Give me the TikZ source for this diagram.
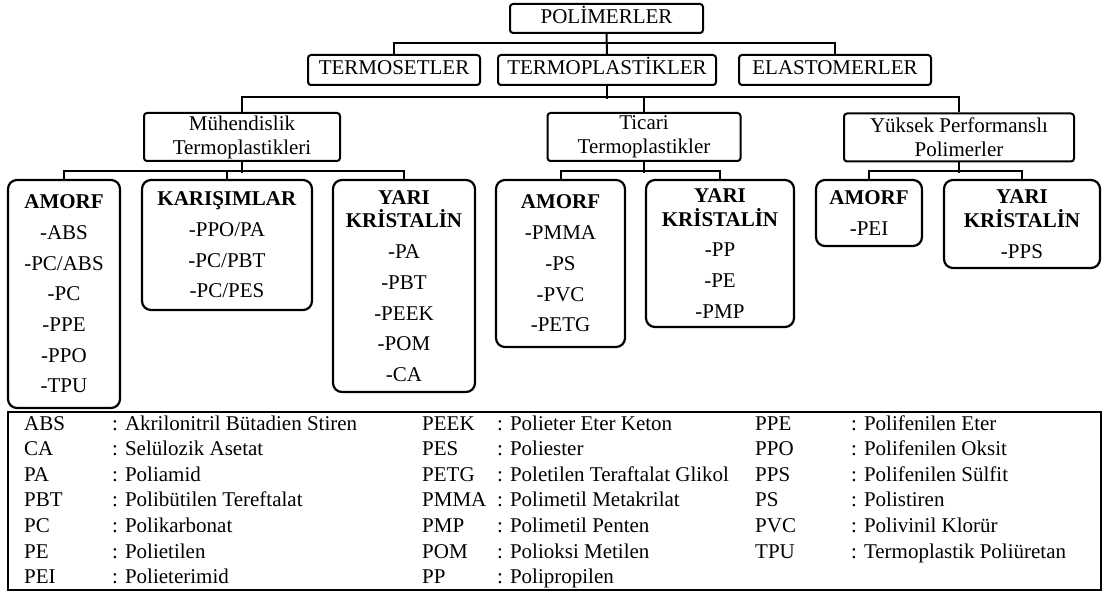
\documentclass[tikz,border=0pt]{standalone}
\usepackage{fontspec}
\setmainfont{Liberation Serif}
\begin{document}
\begin{tikzpicture}[x=1pt,y=-1pt,
  lvl/.style={draw, line width=2pt, rounded corners=3pt, inner sep=0pt, align=center, font=\fontsize{21}{24}\selectfont},
  one/.style={lvl, text height=14pt, text depth=4.5pt},
  grp/.style={draw, line width=2.2pt, rounded corners=9pt, inner sep=0pt, align=center, font=\fontsize{21}{30.7}\selectfont},
  conn/.style={line width=2pt},
  leg/.style={anchor=base west, inner sep=0pt, font=\fontsize{21}{24}\selectfont}]
\useasboundingbox (0,0) rectangle (1103,591);
% level 1
\node[one, minimum width=193pt, minimum height=29pt] (pol) at (606.5,18.5) {POLİMERLER};
\node[one, minimum width=172pt, minimum height=30pt] (tset) at (394,70) {TERMOSETLER};
\node[one, minimum width=218pt, minimum height=30pt] (tplast) at (607,70) {TERMOPLASTİKLER};
\node[one, minimum width=192pt, minimum height=30pt] (elast) at (835,70) {ELASTOMERLER};
% level 2
\node[lvl, minimum width=196pt, minimum height=48pt] (muh) at (242,137) {Mühendislik\\Termoplastikleri};
\node[lvl, minimum width=193pt, minimum height=48pt] (tic) at (644,137) {Ticari\\Termoplastikler};
\node[lvl, minimum width=230pt, minimum height=48pt] (yuk) at (959,137.5) {Yüksek Performanslı\\Polimerler};
% level 3
\node[grp, minimum width=112pt, minimum height=228pt] (am1) at (64,294) {\textbf{AMORF}\\-ABS\\-PC/ABS\\-PC\\-PPE\\-PPO\\-TPU};
\node[grp, minimum width=170pt, minimum height=130pt] (kar) at (227,245) {\textbf{KARIŞIMLAR}\\-PPO/PA\\-PC/PBT\\-PC/PES};
\node[grp, minimum width=142pt, minimum height=212pt] (yk1) at (404,286) {\textbf{YARI}\\[-7pt]\textbf{KRİSTALİN}\\-PA\\-PBT\\-PEEK\\-POM\\-CA};
\node[grp, minimum width=129pt, minimum height=167pt] (am2) at (560.5,263.5) {\textbf{AMORF}\\-PMMA\\-PS\\-PVC\\-PETG};
\node[grp, minimum width=148pt, minimum height=147pt] (yk2) at (720,253.5) {\textbf{YARI}\\[-7pt]\textbf{KRİSTALİN}\\-PP\\-PE\\-PMP};
\node[grp, minimum width=106pt, minimum height=66pt] (am3) at (869,213) {\textbf{AMORF}\\-PEI};
\node[grp, minimum width=156pt, minimum height=88pt] (yk3) at (1022,224) {\textbf{YARI}\\[-7pt]\textbf{KRİSTALİN}\\-PPS};
% connectors level 1
\draw[conn] (pol) -- (tplast);
\draw[conn] (tset.north) -- ++(0,-11) -| (elast.north);
% level 2
\draw[conn] (tplast.south) -- ++(0,13);
\draw[conn] (muh.north) -- ++(0,-15) -| (yuk.north);
\draw[conn] (tic.north) -- ++(0,-15);
% level 3
\draw[conn] (muh.south) -- ++(0,11);
\draw[conn] (am1.north) -- ++(0,-8) -| (yk1.north);
\draw[conn] (kar.north) -- ++(0,-8);
\draw[conn] (tic.south) -- ++(0,11);
\draw[conn] (am2.north) -- ++(0,-8) -| (yk2.north);
\draw[conn] (yuk.south) -- ++(0,10.5);
\draw[conn] (am3.north) -- ++(0,-8) -| (yk3.north);
% legend
\node[draw, line width=1.6pt, inner sep=0pt, minimum width=1093pt, minimum height=178pt] (legend) at (554.5,501) {};
\foreach [count=\i from 0] \a/\d in {ABS/Akrilonitril Bütadien Stiren, CA/Selülozik Asetat, PA/Poliamid, PBT/Polibütilen Tereftalat, PC/Polikarbonat, PE/Polietilen, PEI/Polieterimid}
  {\node[leg] (a\i) at (24,{430+25.6*\i}) {\a}; \node[leg] (b\i) at (112,{430+25.6*\i}) {: \d};}
\foreach [count=\i from 0] \a/\d in {PEEK/Polieter Eter Keton, PES/Poliester, PETG/Poletilen Teraftalat Glikol, PMMA/Polimetil Metakrilat, PMP/Polimetil Penten, POM/Polioksi Metilen, PP/Polipropilen}
  {\node[leg] (c\i) at (422,{430+25.6*\i}) {\a}; \node[leg] (d\i) at (497,{430+25.6*\i}) {: \d};}
\foreach [count=\i from 0] \a/\d in {PPE/Polifenilen Eter, PPO/Polifenilen Oksit, PPS/Polifenilen Sülfit, PS/Polistiren, PVC/Polivinil Klorür, TPU/Termoplastik Poliüretan}
  {\node[leg] (e\i) at (755,{430+25.6*\i}) {\a}; \node[leg] (f\i) at (851,{430+25.6*\i}) {: \d};}
\end{tikzpicture}
\end{document}
